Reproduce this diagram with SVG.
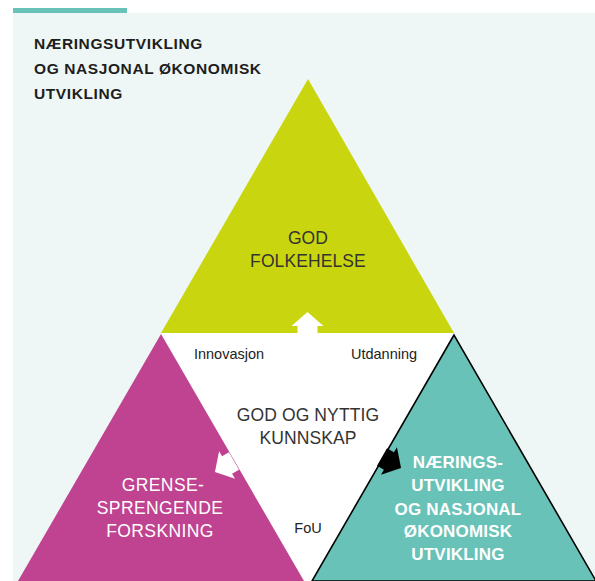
<svg xmlns="http://www.w3.org/2000/svg" width="595" height="581" viewBox="0 0 595 581">
<style>
.hdr{font-family:"Liberation Sans",Arial,sans-serif;font-weight:bold;font-size:15.5px;letter-spacing:0.6px;fill:#1e1e1e}
.lbl{font-family:"Liberation Sans",Arial,sans-serif;font-size:17.5px;letter-spacing:0.1px;fill:#333;text-anchor:middle}
.wl{font-family:"Liberation Sans",Arial,sans-serif;font-size:17.5px;letter-spacing:0.4px;fill:#fff;text-anchor:middle}
.wb{font-family:"Liberation Sans",Arial,sans-serif;font-size:17px;font-weight:bold;letter-spacing:0.2px;fill:#fff;text-anchor:middle}
.sm{font-family:"Liberation Sans",Arial,sans-serif;font-size:14.5px;fill:#222;text-anchor:middle}
</style>
<defs>
<polygon id="arr" points="0,-22 16,-8 10,-8 10,0 -10,0 -10,-8 -16,-8"/>
</defs>
<rect x="0" y="0" width="595" height="581" fill="#fff"/>
<rect x="13" y="13" width="582" height="568" fill="#eef7f5"/>
<rect x="13" y="8" width="114" height="5" fill="#68c2b7"/>
<g id="header">
<text class="hdr" x="34" y="49">NÆRINGSUTVIKLING</text>
<text class="hdr" x="34" y="74">OG NASJONAL ØKONOMISK</text>
<text class="hdr" x="34" y="99">UTVIKLING</text>
</g>
<g id="center">
<polygon points="161,333 454,333 308,590" fill="#fff"/>
<text class="sm" x="229" y="359">Innovasjon</text>
<text class="sm" x="384" y="359">Utdanning</text>
<text class="lbl" x="308" y="421">GOD OG NYTTIG</text>
<text class="lbl" x="308" y="444">KUNNSKAP</text>
<text class="sm" x="308" y="533">FoU</text>
</g>
<g id="folkehelse">
<polygon points="308,79 161,333 454,333" fill="#c9d60f"/>
<text class="lbl" x="308" y="244">GOD</text>
<text class="lbl" x="308" y="267">FOLKEHELSE</text>
</g>
<g id="forskning">
<polygon points="161,334 18,581 304,581" fill="#bf4390"/>
<text class="wl" x="163" y="491">GRENSE-</text>
<text class="wl" x="160" y="514">SPRENGENDE</text>
<text class="wl" x="160" y="537">FORSKNING</text>
</g>
<g id="naeringsutvikling">
<polygon points="454,335 312,581 596,581" fill="#68c2b7" stroke="#000" stroke-width="1.6"/>
<text class="wb" x="458" y="468">NÆRINGS-</text>
<text class="wb" x="458" y="491">UTVIKLING</text>
<text class="wb" x="458" y="515">OG NASJONAL</text>
<text class="wb" x="458" y="537">ØKONOMISK</text>
<text class="wb" x="458" y="560">UTVIKLING</text>
</g>
<g id="connectors">
<use href="#arr" transform="translate(307.5,334)" fill="#fff"/>
<use href="#arr" transform="translate(234,461) rotate(-120)" fill="#fff"/>
<use href="#arr" transform="translate(382,457) rotate(120)" fill="#000"/>
</g>
</svg>
